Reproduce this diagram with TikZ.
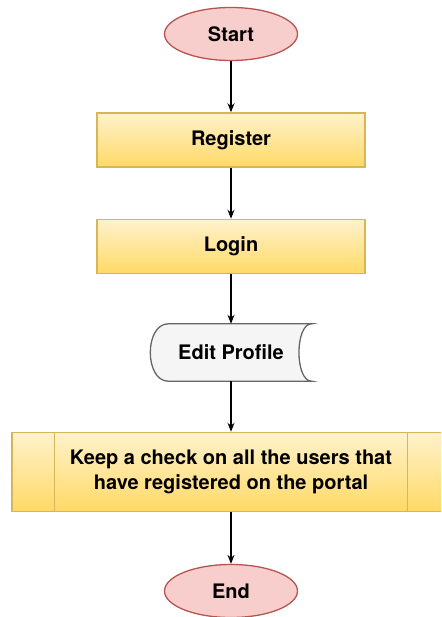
\documentclass[tikz,border=0pt]{standalone}
\usepackage{fontspec}
\setmainfont{TeX Gyre Heros}
\usepackage{xcolor}
\usetikzlibrary{shapes.geometric}
\usetikzlibrary{backgrounds}
\usetikzlibrary{calc}
\usetikzlibrary{positioning, arrows.meta}

\definecolor{termfill}{HTML}{F8CECC}
\definecolor{termline}{HTML}{B85450}
\definecolor{procline}{HTML}{D6B656}
\definecolor{proctop}{HTML}{FFF2CC}
\definecolor{procbot}{HTML}{FFD966}
\definecolor{storefill}{HTML}{F5F5F5}
\definecolor{storeline}{HTML}{666666}

\begin{document}
\begin{tikzpicture}[x=1pt, y=-1pt, >={Stealth[length=9pt,width=7pt]},
    every node/.style={font=\fontsize{20}{25}\selectfont\bfseries},
    term/.style={draw=termline, line width=1.3pt, fill=termfill, ellipse,
        minimum width=133pt, minimum height=53pt, inner sep=0pt},
    proc/.style={draw=procline, line width=1.5pt, top color=proctop, bottom color=procbot,
        minimum width=268pt, minimum height=54pt, inner sep=0pt},
    flow/.style={line width=1.2pt, ->}]
                % Frame of the page, the last box runs past the right side
                \useasboundingbox (0,0) rectangle (441,617);
                \clip (0,0) rectangle (441,617);

                % Steps of the flow, top to bottom
                \node[term] (start) at (231,34) {Start};
                \node[proc] (register) at (231,140) {Register};
                \node[proc] (login) at (231,246.5) {Login};
                \node[minimum width=161pt, minimum height=57pt, inner sep=0pt] (edit) at (231,352.5) {Edit Profile};
                \node[proc, minimum width=438pt, minimum height=79pt, align=center] (check) at (231,472)
                    {Keep a check on all the users that\\have registered on the portal};
                \node[term] (end) at (231,591) {End};

                % Stored data outline behind Edit Profile
                \begin{scope}[on background layer]
                \draw[draw=storeline, fill=storefill, line width=1.3pt]
                    ($(edit.north west)+(18,0)$) -- (edit.north east)
                    .. controls +(-17,0) and +(-17,0) .. (edit.south east)
                    -- ($(edit.south west)+(18,0)$)
                    .. controls +(-24,0) and +(-24,0) .. ($(edit.north west)+(18,0)$) -- cycle;
                \end{scope}

                % Side bars of the last box
                \draw[draw=procline, line width=1.2pt] ($(check.north west)+(43,0)$) -- ($(check.south west)+(43,0)$);
                \draw[draw=procline, line width=1.2pt] ($(check.north east)+(-43,0)$) -- ($(check.south east)+(-43,0)$);

                % Connectors
                \draw[flow] (start) -- (register);
                \draw[flow] (register) -- (login);
                \draw[flow] (login) -- (edit);
                \draw[flow] (edit) -- (check);
                \draw[flow] (check) -- (end);
            \end{tikzpicture}
\end{document}
